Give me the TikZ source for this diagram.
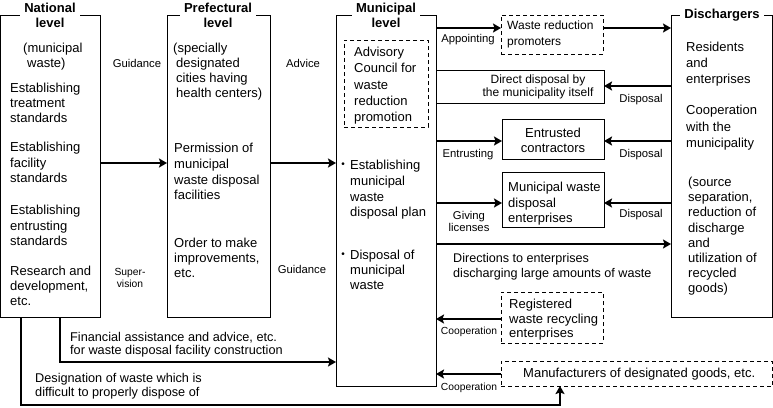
\documentclass[tikz,border=0pt]{standalone}
\usepackage{fontspec}
\setmainfont{Liberation Sans}
\usetikzlibrary{arrows.meta}
\newcommand\myfs[2]{\fontsize{#1}{#2}\selectfont}
\begin{document}
\begin{tikzpicture}[x=1pt,y=-1pt,
  box/.style={draw, line width=1pt, inner sep=0, outer sep=0, anchor=north west},
  dbox/.style={box, dash pattern=on 4pt off 3pt},
  ghost/.style={inner sep=0, outer sep=0, anchor=north west},
  tx/.style={inner sep=0, align=left, anchor=north west, font=\myfs{13}{15}},
  title/.style={fill=white, inner xsep=4pt, inner ysep=1pt, align=center, font=\bfseries\myfs{13}{15}},
  lb/.style={inner sep=0, align=center, font=\myfs{11.3}{12}},
  bul/.style={inner sep=0, font=\myfs{10}{10}},
  arr/.style={line width=2.4pt, -{Stealth[length=8pt,width=9pt,inset=1.5pt]}}]
\fill[white] (0,0) rectangle (773,407);
\useasboundingbox (0,0) rectangle (773,407);

% main boxes
\node[box, minimum width=99.5pt, minimum height=302pt] (nat) at (0.5,15) {};
\node[box, minimum width=103pt, minimum height=302pt] (pref) at (167,15) {};
\node[box, minimum width=100pt, minimum height=371pt] (muni) at (336,15) {};
\node[box, minimum width=101.5pt, minimum height=302pt] (disc) at (671,15) {};
% inner boxes
\node[dbox, minimum width=84pt, minimum height=87pt] (adv) at (344,40) {};
\node[dbox, minimum width=102pt, minimum height=39pt] (prom) at (501,15) {};
\node[ghost, minimum width=168pt, minimum height=33pt] (direct) at (436,70) {};
\draw[line width=1pt] (direct.north west) -- (direct.north east) -- (direct.south east) -- (direct.south west);
\node[box, minimum width=102pt, minimum height=40pt] (entr) at (502,119) {};
\node[box, minimum width=102pt, minimum height=55pt] (mwde) at (502,172) {};
\node[dbox, minimum width=102pt, minimum height=51pt] (reg) at (501,292) {};
\node[dbox, minimum width=271.5pt, minimum height=25pt] (manu) at (501,361) {};

% titles
\node[title] (natH) at (50,15.5) {National\\level};
\node[title] (prefH) at (218,15.5) {Prefectural\\level};
\node[title] (muniH) at (386,15.5) {Municipal\\level};
\node[title] (discH) at (722,15) {Dischargers};

% national texts
\node[tx] (n1) at (23,43) {(municipal\\\hspace*{4pt}waste)};
\node[tx] (n2) at (10,83) {Establishing\\treatment\\standards};
\node[tx, font=\myfs{13}{15.5}] (n3) at (10,142) {Establishing\\facility\\standards};
\node[tx, font=\myfs{13}{15.5}] (n4) at (10,205) {Establishing\\entrusting\\standards};
\node[tx] (n5) at (10,266) {Research and\\development,\\etc.};

% prefectural texts
\node[tx] (p1) at (173,43) {(specially\\\hspace*{3pt}designated\\\hspace*{3pt}cities having\\\hspace*{3pt}health centers)};
\node[tx, font=\myfs{13}{15.7}] (p2) at (174,143) {Permission of\\municipal\\waste disposal\\facilities};
\node[tx] (p3) at (174,238) {Order to make\\improvements,\\etc.};

% municipal texts
\node[tx, font=\myfs{13}{16.25}] (m1) at (354,47) {Advisory\\Council for\\waste\\reduction\\promotion};
\node[bul] (b1) at (343,165) {•};
\node[tx, font=\myfs{13}{15.7}] (m2) at (350,160) {Establishing\\municipal\\waste\\disposal plan};
\node[bul] (b2) at (343,255) {•};
\node[tx, font=\myfs{13}{15}] (m3) at (350,250) {Disposal of\\municipal\\waste};

% dischargers texts
\node[tx, font=\myfs{13}{16}] (d1) at (686,42) {Residents\\and\\enterprises};
\node[tx, font=\myfs{13}{16.5}] (d2) at (686,105) {Cooperation\\with the\\municipality};
\node[tx, font=\myfs{13}{15.15}] (d3) at (688,177) {(source\\separation,\\reduction of\\discharge\\and\\utilization of\\recycled\\goods)};

% inner box texts
\node[tx, font=\myfs{12}{16}] (promT) at (507,21) {Waste reduction\\promoters};
\node[lb, font=\myfs{12}{13}] (directT) at (538,87) {Direct disposal by\\the municipality itself};
\node[lb, font=\myfs{13}{15}] (entrT) at (553,140) {Entrusted\\contractors};
\node[tx, font=\myfs{13}{15.5}] (mwdeT) at (508,182) {Municipal waste\\disposal\\enterprises};
\node[tx, font=\myfs{13}{14.5}] (regT) at (509,299) {Registered\\waste recycling\\enterprises};
\node[tx, anchor=west] (manuT) at (523,374) {Manufacturers of designated goods, etc.};

% connectors
\draw[arr] (nat.east |- 0,163) -- (pref.west |- 0,163);
\draw[arr] (pref.east |- 0,163) -- (muni.west |- 0,163);
\draw[arr] (muni.east |- 0,28) -- (prom.west |- 0,28);
\draw[arr] (prom.east |- 0,28) -- (disc.west |- 0,28);
\draw[arr] (disc.west |- 0,86) -- (direct.east |- 0,86);
\draw[arr] (muni.east |- 0,141) -- (entr.west |- 0,141);
\draw[arr] (disc.west |- 0,141) -- (entr.east |- 0,141);
\draw[arr] (muni.east |- 0,203) -- (mwde.west |- 0,203);
\draw[arr] (disc.west |- 0,203) -- (mwde.east |- 0,203);
\draw[arr] (muni.east |- 0,244) -- (disc.west |- 0,244);
\draw[arr] (reg.west |- 0,319) -- (muni.east |- 0,319);
\draw[arr] (manu.west |- 0,374) -- (muni.east |- 0,374);
\draw[arr] (nat.south -| 60,0) |- (muni.west |- 0,362);
\draw[arr] (nat.south -| 21,0) -- (21,405) -| (manu.south -| 560,0);

% connector labels
\node[lb] (l1) at (137,63) {Guidance};
\node[lb] (l2) at (303,63) {Advice};
\node[lb, font=\myfs{10.3}{11.5}] (l3) at (130,278) {Super-\\vision};
\node[lb] (l4) at (302,269) {Guidance};
\node[lb] (l5) at (468,40) {Appointing};
\node[lb] (l6) at (468,155) {Entrusting};
\node[lb] (l7) at (469,221) {Giving\\licenses};
\node[lb] (l8) at (641,100) {Disposal};
\node[lb] (l9) at (641,155) {Disposal};
\node[lb] (l10) at (641,215) {Disposal};
\node[lb, font=\myfs{10.3}{12}] (l11) at (469,332) {Cooperation};
\node[lb, font=\myfs{10.3}{12}] (l12) at (469,388) {Cooperation};
\node[tx, font=\myfs{12.6}{15}] (l13) at (453,253) {Directions to enterprises\\discharging large amounts of waste};
\node[tx, font=\myfs{12.7}{13.5}] (l14) at (70,332) {Financial assistance and advice, etc.\\for waste disposal facility construction};
\node[tx, font=\myfs{12.7}{14}] (l15) at (35,373) {Designation of waste which is\\difficult to properly dispose of};
\end{tikzpicture}
\end{document}
